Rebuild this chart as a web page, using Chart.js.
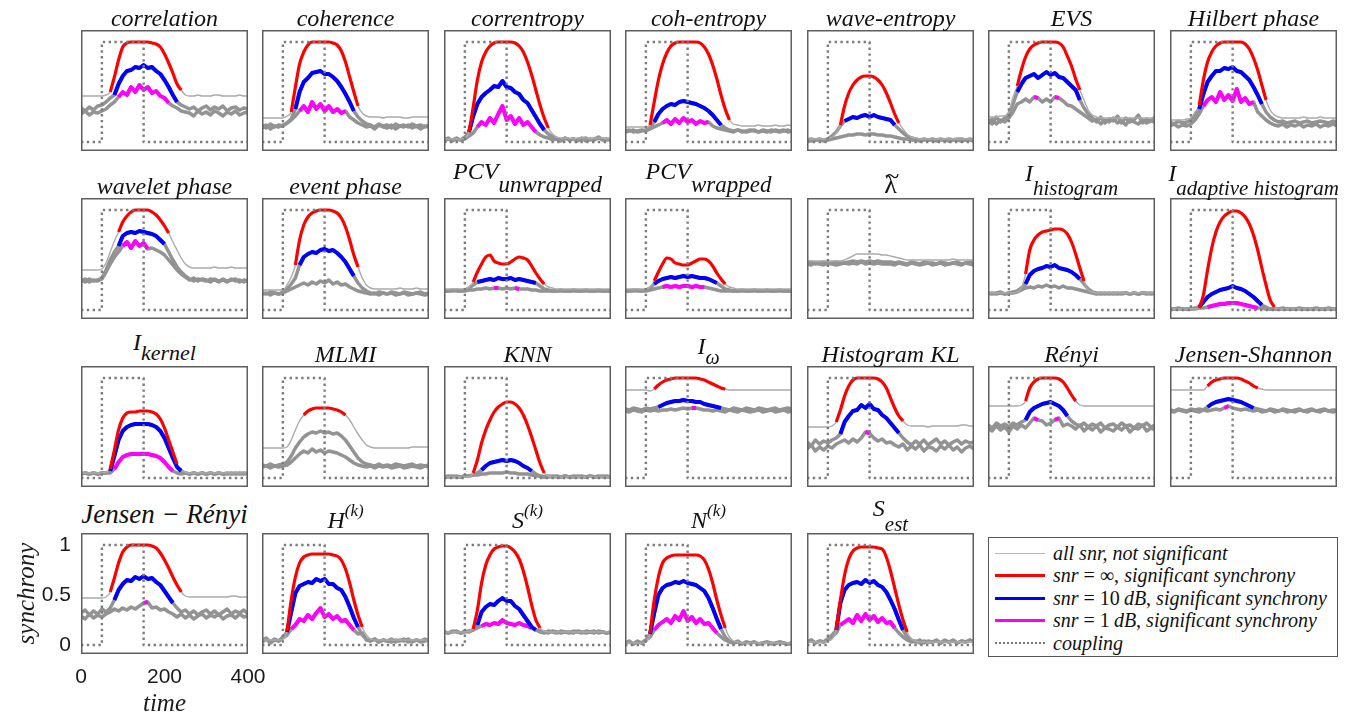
<!DOCTYPE html>
<html><head><meta charset="utf-8">
<script src="https://cdn.jsdelivr.net/npm/chart.js@4/dist/chart.umd.min.js"></script>
<style>
html,body{margin:0;padding:0;background:#fff;}
#wrap{position:relative;width:1348px;height:719px;overflow:hidden;background:#fff;}
#wrap canvas{position:absolute;}
.ttl{position:absolute;transform:translateX(-50%);font-family:'Liberation Serif','Times New Roman',serif;font-style:italic;font-size:24px;line-height:1;color:#111;white-space:nowrap;}
.sb{position:relative;}
#legend{position:absolute;left:988px;top:537px;width:348px;height:118px;border:1.5px solid #555;font-family:'Liberation Serif','Times New Roman',serif;font-size:20px;color:#111;}
.li{position:absolute;left:0;height:22px;display:flex;align-items:center;white-space:nowrap;}
.sw{display:inline-block;width:50px;margin-left:6px;margin-right:8px;height:0;}
</style></head>
<body><div id="wrap"></div>
<script>
// ---------- shared axes / categories ----------
const timeAxis=[0,10,20,30,40,50,60,70,80,90,100,110,120,130,140,150,160,170,180,190,200,210,220,230,240,250,260,270,280,290,300,310,320,330,340,350,360,370,380,390,400];
const couplingT=[0,50,50,150,150,400];
const couplingY=[0,0,1,1,0,0];
const yTicks=[0,0.5,1];
const xTicks=[0,200,400];

// ---------- series (inf = snr ∞, _10 = 10 dB, _1 = 1 dB); s* = significant time ranges [start,end,...] ----------
const corr_inf=[.46,.46,.46,.46,.46,.46,.47,.50,.65,.82,.95,.99,1,1,1,1,1,.99,.98,.95,.88,.79,.69,.58,.52,.47,.46,.46,.47,.46,.46,.46,.47,.47,.46,.46,.46,.46,.47,.46,.46];
const corr_10=[.34,.31,.35,.32,.36,.37,.40,.44,.47,.58,.66,.71,.72,.75,.74,.77,.74,.75,.71,.68,.62,.55,.47,.40,.37,.35,.33,.35,.31,.34,.36,.32,.35,.33,.36,.31,.34,.35,.32,.34,.33];
const corr_1=[.28,.31,.27,.30,.29,.31,.33,.37,.40,.45,.50,.47,.55,.50,.57,.52,.55,.49,.51,.46,.44,.39,.36,.34,.31,.30,.29,.26,.31,.28,.30,.27,.31,.29,.26,.30,.28,.31,.27,.29,.30];
const corr_sInf=[70,240], corr_s10=[80,230], corr_s1=[90,210];

const coh_inf=[.24,.24,.24,.24,.24,.24,.26,.30,.55,.78,.90,.97,1,1,1,1,1,.99,.97,.91,.80,.65,.50,.36,.29,.26,.25,.25,.25,.24,.25,.25,.25,.25,.24,.24,.25,.25,.25,.25,.25];
const coh_10=[.17,.14,.18,.15,.17,.16,.19,.23,.33,.50,.60,.64,.69,.70,.71,.68,.68,.65,.61,.55,.48,.40,.31,.25,.21,.18,.17,.15,.18,.16,.17,.14,.18,.16,.17,.15,.18,.16,.17,.15,.17];
const coh_1=[.14,.17,.13,.16,.15,.17,.19,.22,.26,.31,.36,.30,.40,.33,.38,.31,.36,.30,.33,.29,.31,.25,.22,.19,.17,.15,.16,.13,.17,.15,.14,.17,.13,.16,.15,.17,.14,.16,.13,.16,.15];
const coh_sInf=[70,230], coh_s10=[80,220], coh_s1=[90,200];

const centr_inf=[.03,.03,.03,.03,.03,.04,.10,.35,.62,.80,.90,.96,.99,1,1,1,1,.99,.96,.90,.80,.67,.52,.37,.24,.14,.08,.05,.04,.04,.04,.03,.04,.04,.04,.03,.04,.04,.04,.03,.04];
const centr_10=[.02,.04,.01,.03,.02,.05,.10,.26,.38,.45,.49,.52,.56,.55,.61,.55,.54,.50,.48,.42,.39,.32,.25,.18,.12,.08,.05,.03,.02,.04,.02,.03,.01,.03,.04,.02,.03,.05,.02,.03,.02];
const centr_1=[.01,.03,.02,.04,.02,.03,.06,.09,.15,.20,.17,.24,.19,.28,.36,.22,.26,.18,.24,.17,.20,.15,.10,.07,.05,.04,.02,.03,.01,.04,.02,.03,.02,.04,.01,.03,.02,.04,.03,.02,.03];
const centr_sInf=[60,250], centr_s10=[60,240], centr_s1=[80,220];

const cohent_inf=[.15,.15,.15,.15,.15,.15,.17,.40,.62,.78,.89,.96,.99,1,1,1,1,1,.99,.95,.88,.77,.63,.47,.33,.22,.18,.17,.16,.16,.16,.16,.17,.16,.16,.16,.17,.16,.16,.17,.16];
const cohent_10=[.11,.12,.10,.11,.12,.11,.14,.20,.28,.33,.36,.38,.37,.40,.41,.40,.39,.38,.36,.34,.31,.27,.22,.17,.14,.12,.11,.12,.10,.11,.12,.11,.10,.12,.11,.10,.12,.11,.12,.10,.11];
const cohent_1=[.10,.11,.12,.10,.11,.12,.13,.15,.17,.19,.22,.18,.23,.19,.24,.20,.22,.18,.21,.19,.20,.16,.14,.13,.12,.11,.10,.12,.11,.10,.11,.12,.10,.11,.10,.12,.11,.10,.11,.12,.10];
const cohent_sInf=[60,250], cohent_s10=[70,230], cohent_s1=[90,200];

const wavent_inf=[.03,.03,.03,.03,.03,.03,.05,.09,.17,.36,.49,.57,.62,.65,.66,.66,.65,.62,.57,.49,.39,.28,.19,.13,.08,.05,.04,.03,.03,.03,.03,.03,.03,.03,.03,.03,.03,.03,.03,.03,.03];
const wavent_10=[.02,.03,.02,.03,.02,.03,.06,.10,.16,.21,.23,.25,.24,.26,.27,.25,.27,.25,.24,.23,.22,.17,.13,.09,.06,.04,.03,.02,.03,.02,.03,.02,.03,.02,.03,.02,.03,.03,.02,.03,.02];
const wavent_1=[.02,.01,.02,.02,.01,.02,.03,.04,.05,.06,.07,.07,.08,.08,.07,.08,.08,.07,.07,.06,.06,.05,.04,.03,.03,.02,.02,.01,.02,.02,.02,.01,.02,.02,.01,.02,.02,.01,.02,.02,.01];
const wavent_sInf=[80,220], wavent_s10=[90,210], wavent_s1=[];

const evs_inf=[.25,.25,.25,.26,.26,.30,.45,.56,.72,.85,.93,.97,.99,1,1,1,1,.99,.95,.86,.76,.63,.52,.42,.32,.27,.25,.24,.24,.24,.24,.24,.24,.24,.24,.24,.24,.24,.24,.24,.24];
const evs_10=[.22,.18,.25,.20,.24,.28,.38,.50,.58,.64,.66,.68,.64,.67,.70,.67,.69,.65,.64,.60,.56,.52,.42,.34,.28,.24,.20,.25,.19,.23,.21,.26,.19,.24,.20,.22,.27,.19,.23,.21,.25];
const evs_1=[.19,.23,.18,.22,.20,.24,.30,.38,.40,.43,.40,.45,.44,.40,.43,.40,.45,.44,.41,.37,.36,.33,.30,.27,.24,.21,.23,.18,.22,.20,.24,.19,.21,.17,.23,.20,.18,.22,.19,.21,.20];
const evs_sInf=[70,220], evs_s10=[70,220], evs_s1=[110,120,160,170];

const hilb_inf=[.22,.22,.22,.22,.23,.24,.30,.37,.62,.80,.90,.96,.99,1,1,1,1,1,.98,.93,.84,.72,.57,.42,.32,.27,.25,.24,.24,.24,.24,.24,.25,.24,.24,.24,.25,.24,.24,.24,.24];
const hilb_10=[.20,.18,.21,.19,.20,.22,.27,.33,.48,.60,.66,.71,.71,.74,.73,.75,.71,.70,.66,.62,.55,.47,.38,.30,.25,.22,.20,.21,.19,.20,.21,.19,.20,.21,.19,.20,.21,.20,.19,.21,.20];
const hilb_1=[.16,.18,.15,.17,.16,.18,.22,.28,.36,.42,.45,.40,.50,.42,.47,.41,.53,.40,.44,.38,.40,.30,.26,.22,.19,.17,.16,.18,.15,.17,.16,.18,.15,.17,.16,.18,.15,.17,.16,.18,.16];
const hilb_sInf=[70,230], hilb_s10=[70,220], hilb_s1=[80,200];

const wvph_inf=[.40,.40,.40,.40,.40,.41,.47,.58,.69,.78,.88,.94,.98,1,1,1,1,.98,.95,.90,.84,.77,.68,.60,.52,.46,.43,.42,.42,.42,.42,.42,.43,.42,.42,.42,.43,.42,.42,.42,.42];
const wvph_10=[.30,.28,.31,.29,.30,.32,.40,.50,.58,.64,.74,.77,.78,.77,.79,.78,.77,.76,.74,.70,.66,.58,.50,.43,.38,.34,.31,.29,.31,.30,.29,.31,.30,.28,.31,.29,.30,.31,.28,.30,.29];
const wvph_1=[.29,.31,.28,.30,.29,.31,.38,.46,.53,.58,.64,.68,.62,.69,.64,.67,.61,.62,.60,.58,.55,.50,.45,.40,.36,.33,.30,.32,.29,.31,.30,.28,.31,.29,.30,.28,.31,.29,.30,.28,.30];
const wvph_sInf=[90,210], wvph_s10=[90,200], wvph_s1=[100,160];

const evph_inf=[.20,.20,.20,.20,.20,.20,.25,.33,.45,.70,.85,.93,.97,.99,1,1,1,.99,.97,.92,.83,.70,.55,.43,.32,.25,.22,.21,.21,.21,.21,.21,.21,.22,.21,.21,.21,.22,.21,.21,.21];
const evph_10=[.17,.16,.18,.17,.16,.18,.21,.26,.32,.45,.53,.56,.58,.57,.60,.61,.59,.60,.57,.53,.48,.41,.34,.27,.22,.19,.17,.16,.18,.17,.16,.18,.17,.16,.18,.17,.16,.17,.18,.16,.17];
const evph_1=[.16,.17,.15,.17,.16,.17,.19,.21,.23,.25,.27,.25,.28,.26,.29,.27,.30,.26,.28,.25,.26,.23,.21,.19,.18,.17,.16,.17,.15,.17,.16,.17,.15,.16,.17,.15,.16,.17,.16,.15,.16];
const evph_sInf=[80,230], evph_s10=[90,220], evph_s1=[];

const pcvu_inf=[.21,.21,.21,.21,.21,.21,.23,.28,.38,.46,.53,.55,.49,.47,.46,.46,.48,.51,.53,.52,.50,.44,.37,.31,.26,.23,.22,.21,.21,.21,.21,.21,.21,.21,.21,.21,.21,.21,.21,.21,.21];
const pcvu_10=[.19,.19,.20,.19,.19,.20,.22,.25,.28,.29,.30,.31,.30,.32,.31,.31,.32,.30,.31,.30,.29,.28,.27,.24,.21,.20,.19,.19,.20,.19,.19,.20,.19,.19,.20,.19,.19,.20,.19,.19,.19];
const pcvu_1=[.19,.19,.19,.20,.19,.19,.20,.20,.21,.21,.22,.21,.22,.22,.21,.22,.21,.22,.21,.21,.21,.20,.20,.19,.19,.19,.19,.19,.19,.19,.19,.19,.19,.19,.19,.19,.19,.19,.19,.19,.19];
const pcvu_sInf=[70,240], pcvu_s10=[80,220], pcvu_s1=[120,130,170,180];

const pcvw_inf=[.21,.21,.21,.21,.21,.21,.23,.29,.38,.46,.52,.51,.47,.46,.45,.45,.47,.49,.51,.51,.49,.44,.37,.31,.26,.23,.22,.21,.21,.21,.21,.21,.21,.21,.21,.21,.21,.21,.21,.21,.21];
const pcvw_10=[.19,.19,.20,.19,.19,.20,.22,.26,.29,.31,.32,.33,.32,.33,.34,.33,.34,.33,.32,.32,.31,.29,.27,.24,.21,.20,.19,.19,.20,.19,.19,.20,.19,.19,.20,.19,.19,.20,.19,.19,.19];
const pcvw_1=[.19,.19,.19,.20,.19,.19,.20,.21,.22,.23,.24,.23,.24,.23,.24,.24,.23,.24,.23,.23,.22,.21,.20,.19,.19,.19,.19,.19,.19,.19,.19,.19,.19,.19,.19,.19,.19,.19,.19,.19,.19];
const pcvw_sInf=[70,240], pcvw_s10=[70,220], pcvw_s1=[90,190];

const lam_inf=[.49,.49,.49,.49,.49,.49,.49,.49,.49,.50,.52,.54,.56,.56,.56,.56,.56,.56,.55,.55,.54,.53,.52,.51,.50,.50,.50,.50,.50,.50,.50,.50,.50,.50,.50,.51,.50,.50,.50,.50,.50];
const lam_10=[.47,.48,.46,.47,.48,.46,.47,.48,.47,.47,.48,.49,.48,.49,.48,.49,.48,.49,.48,.48,.48,.47,.48,.47,.46,.48,.47,.46,.48,.47,.47,.46,.48,.47,.46,.47,.48,.46,.47,.48,.47];
const lam_1=[.46,.45,.47,.46,.45,.47,.46,.45,.46,.47,.46,.47,.46,.48,.46,.47,.46,.47,.46,.46,.46,.45,.47,.46,.45,.47,.46,.45,.46,.47,.45,.46,.47,.45,.46,.47,.46,.45,.47,.46,.45];
const lam_sInf=[], lam_s10=[], lam_s1=[];

const ihist_inf=[.17,.17,.17,.17,.17,.17,.17,.18,.22,.36,.60,.70,.75,.78,.79,.80,.81,.81,.80,.76,.68,.56,.42,.29,.20,.18,.17,.17,.17,.17,.17,.17,.17,.17,.17,.17,.17,.17,.17,.17,.17];
const ihist_10=[.17,.16,.17,.18,.16,.17,.18,.19,.22,.26,.35,.39,.41,.42,.44,.43,.45,.42,.41,.40,.38,.35,.31,.26,.21,.18,.17,.16,.17,.16,.17,.16,.17,.17,.16,.17,.16,.17,.17,.16,.17];
const ihist_1=[.16,.17,.16,.17,.16,.17,.17,.18,.20,.22,.23,.22,.24,.23,.25,.23,.24,.22,.24,.22,.22,.21,.20,.19,.18,.17,.16,.17,.16,.17,.16,.17,.16,.17,.16,.17,.16,.17,.16,.17,.16];
const ihist_sInf=[90,230], ihist_s10=[90,220], ihist_s1=[];

const iadapt_inf=[.01,.01,.01,.01,.01,.01,.01,.02,.15,.40,.62,.78,.88,.94,.97,.99,.99,.97,.93,.86,.75,.60,.42,.25,.10,.03,.01,.01,.01,.01,.01,.01,.01,.01,.01,.01,.01,.01,.01,.01,.01];
const iadapt_10=[.01,.01,.02,.01,.01,.01,.02,.03,.08,.13,.16,.18,.20,.21,.22,.24,.22,.21,.19,.16,.13,.09,.05,.03,.01,.01,.01,.02,.01,.01,.01,.02,.01,.01,.01,.02,.01,.01,.02,.01,.01];
const iadapt_1=[.01,.01,.01,.01,.01,.01,.01,.02,.02,.03,.04,.05,.06,.06,.07,.07,.07,.06,.05,.04,.03,.02,.02,.01,.01,.01,.01,.01,.01,.01,.01,.01,.01,.01,.01,.01,.01,.01,.01,.01,.01];
const iadapt_sInf=[70,250], iadapt_s10=[70,220], iadapt_s1=[90,210];

const iker_inf=[.05,.05,.05,.05,.05,.05,.06,.09,.28,.48,.60,.65,.66,.66,.67,.67,.67,.66,.64,.59,.50,.38,.26,.14,.08,.06,.05,.05,.05,.05,.05,.05,.05,.05,.05,.05,.05,.05,.05,.05,.05];
const iker_10=[.04,.05,.04,.05,.04,.05,.05,.07,.22,.38,.47,.51,.53,.54,.54,.54,.54,.53,.51,.47,.40,.30,.20,.11,.07,.05,.04,.05,.04,.05,.04,.05,.04,.05,.04,.04,.05,.04,.05,.04,.05];
const iker_1=[.04,.05,.04,.05,.04,.05,.05,.05,.09,.16,.21,.23,.24,.24,.24,.24,.24,.23,.22,.20,.16,.11,.07,.05,.04,.05,.04,.05,.04,.05,.04,.05,.04,.05,.04,.05,.04,.05,.04,.05,.04];
const iker_sInf=[70,230], iker_s10=[70,240], iker_s1=[80,220];

const mlmi_inf=[.30,.30,.30,.30,.30,.30,.31,.38,.48,.57,.63,.67,.69,.70,.70,.70,.70,.69,.68,.66,.63,.58,.51,.44,.38,.33,.31,.30,.30,.30,.30,.30,.30,.30,.30,.30,.31,.31,.31,.31,.31];
const mlmi_10=[.13,.12,.14,.12,.13,.14,.16,.22,.30,.36,.41,.44,.46,.45,.47,.45,.46,.44,.45,.42,.38,.32,.26,.20,.16,.14,.13,.12,.14,.12,.13,.12,.14,.13,.12,.13,.14,.12,.13,.12,.13];
const mlmi_1=[.11,.12,.10,.12,.11,.12,.13,.16,.20,.24,.27,.25,.29,.26,.28,.25,.27,.26,.25,.23,.21,.18,.15,.13,.12,.11,.12,.10,.12,.11,.12,.10,.11,.12,.10,.11,.12,.11,.10,.12,.11];
const mlmi_sInf=[100,200], mlmi_s10=[], mlmi_s1=[];

const knn_inf=[.01,.01,.01,.01,.01,.01,.01,.05,.18,.35,.48,.58,.66,.71,.74,.76,.76,.74,.70,.63,.53,.41,.28,.15,.05,.02,.01,.01,.01,.01,.01,.01,.01,.01,.01,.01,.01,.01,.01,.01,.01];
const knn_10=[.01,.02,.01,.02,.01,.02,.02,.03,.05,.08,.12,.15,.16,.17,.18,.17,.18,.17,.15,.12,.10,.07,.04,.02,.01,.02,.01,.02,.01,.02,.01,.02,.01,.02,.01,.02,.01,.02,.01,.02,.01];
const knn_1=[.01,.01,.02,.01,.01,.02,.02,.03,.03,.04,.04,.05,.05,.05,.05,.06,.05,.05,.04,.04,.04,.03,.02,.02,.01,.01,.02,.01,.01,.02,.01,.01,.02,.01,.01,.02,.01,.01,.02,.01,.01];
const knn_sInf=[70,240], knn_s10=[90,210], knn_s1=[];

const iw_inf=[.88,.88,.88,.88,.88,.88,.87,.89,.93,.96,.98,.99,1,1,1,1,1,1,.99,.98,.96,.94,.92,.90,.89,.88,.88,.88,.88,.88,.88,.88,.88,.88,.88,.88,.88,.88,.88,.88,.88];
const iw_10=[.69,.68,.70,.69,.68,.70,.69,.70,.71,.73,.75,.76,.77,.77,.78,.77,.77,.76,.76,.74,.73,.72,.71,.70,.69,.68,.70,.69,.68,.70,.69,.68,.70,.69,.68,.69,.70,.68,.69,.70,.69];
const iw_1=[.67,.66,.68,.67,.66,.68,.67,.68,.67,.68,.68,.69,.68,.69,.70,.69,.70,.70,.69,.68,.68,.67,.68,.67,.66,.68,.67,.66,.68,.67,.66,.67,.68,.66,.67,.68,.66,.67,.68,.66,.67];
const iw_sInf=[70,240], iw_s10=[80,230], iw_s1=[160,170];

const hkl_inf=[.51,.51,.51,.51,.51,.51,.52,.56,.68,.82,.92,.98,1,1,1,1,1,.99,.96,.90,.80,.70,.62,.57,.53,.52,.52,.52,.52,.51,.52,.52,.52,.52,.52,.52,.52,.53,.53,.52,.52];
const hkl_10=[.36,.32,.38,.34,.37,.35,.38,.40,.44,.56,.62,.67,.68,.73,.70,.74,.69,.68,.63,.60,.55,.50,.45,.40,.36,.33,.37,.34,.38,.33,.36,.39,.34,.37,.33,.36,.38,.34,.37,.35,.36];
const hkl_1=[.29,.33,.27,.31,.28,.32,.30,.34,.36,.38,.35,.39,.36,.40,.46,.45,.40,.37,.39,.35,.36,.33,.31,.34,.28,.32,.29,.33,.27,.31,.30,.27,.32,.29,.33,.28,.31,.26,.30,.32,.29];
const hkl_sInf=[70,230], hkl_s10=[80,220], hkl_s1=[140,150];

const renyi_inf=[.72,.72,.72,.72,.72,.72,.72,.72,.73,.77,.90,.96,.99,1,1,1,1,.99,.96,.90,.83,.77,.73,.72,.72,.72,.72,.72,.72,.72,.72,.72,.72,.72,.72,.72,.72,.72,.72,.72,.72];
const renyi_10=[.53,.50,.55,.52,.54,.51,.55,.53,.56,.58,.66,.70,.72,.74,.75,.76,.74,.72,.68,.62,.57,.54,.52,.55,.51,.54,.52,.55,.50,.53,.54,.51,.55,.52,.53,.50,.54,.52,.55,.51,.53];
const renyi_1=[.50,.47,.52,.48,.51,.46,.52,.49,.53,.50,.55,.60,.58,.57,.53,.55,.58,.60,.52,.54,.52,.49,.53,.47,.51,.48,.52,.46,.50,.49,.47,.51,.48,.52,.46,.50,.49,.53,.47,.50,.48];
const renyi_sInf=[90,210], renyi_s10=[90,190], renyi_s1=[110,120,160,170];

const js_inf=[.88,.88,.88,.88,.88,.88,.88,.88,.88,.92,.96,.98,.99,1,1,1,1,.99,.97,.95,.92,.90,.89,.88,.88,.88,.88,.88,.88,.88,.88,.88,.88,.88,.88,.88,.88,.88,.88,.88,.88];
const js_10=[.68,.67,.69,.68,.67,.69,.68,.69,.68,.71,.74,.76,.77,.78,.79,.78,.77,.76,.74,.72,.70,.69,.68,.67,.69,.68,.67,.69,.68,.67,.68,.69,.67,.68,.69,.67,.68,.69,.67,.68,.68];
const js_1=[.67,.66,.68,.67,.66,.68,.67,.66,.68,.67,.68,.69,.68,.70,.72,.70,.69,.68,.69,.68,.67,.68,.66,.67,.68,.66,.67,.68,.66,.67,.66,.68,.67,.66,.68,.67,.66,.68,.67,.66,.67];
const js_sInf=[90,210], js_s10=[90,200], js_s1=[130,140];

const jr_inf=[.47,.47,.47,.47,.47,.47,.48,.53,.67,.82,.93,.98,1,1,1,1,1,.99,.97,.92,.85,.77,.68,.60,.53,.49,.48,.48,.48,.48,.48,.48,.48,.48,.48,.48,.49,.49,.48,.48,.48];
const jr_10=[.32,.35,.30,.34,.31,.36,.33,.37,.45,.55,.61,.65,.64,.68,.66,.69,.66,.67,.63,.60,.54,.48,.42,.37,.33,.35,.31,.34,.30,.33,.35,.31,.34,.30,.33,.36,.31,.34,.32,.35,.31];
const jr_1=[.29,.26,.31,.27,.30,.28,.31,.33,.36,.34,.37,.35,.38,.36,.39,.42,.43,.37,.38,.35,.36,.33,.31,.28,.31,.27,.30,.26,.29,.31,.27,.30,.28,.31,.26,.29,.30,.27,.31,.28,.29];
const jr_sInf=[70,240], jr_s10=[80,220], jr_s1=[150,160];

const hk_inf=[.05,.05,.05,.05,.05,.06,.14,.45,.68,.82,.88,.90,.91,.91,.91,.91,.91,.90,.89,.85,.76,.62,.45,.30,.18,.10,.06,.05,.05,.05,.05,.05,.05,.05,.05,.05,.05,.05,.05,.05,.05];
const hk_10=[.04,.07,.03,.06,.04,.08,.13,.33,.52,.59,.61,.63,.62,.66,.64,.66,.61,.61,.57,.55,.48,.38,.27,.18,.10,.06,.04,.06,.03,.05,.04,.06,.03,.05,.04,.06,.03,.05,.04,.06,.04];
const hk_1=[.03,.06,.02,.05,.04,.07,.10,.16,.20,.26,.24,.30,.26,.32,.37,.28,.31,.26,.29,.24,.25,.20,.15,.11,.12,.05,.04,.06,.03,.05,.04,.03,.05,.04,.06,.03,.04,.05,.03,.04,.05];
const hk_sInf=[60,240], hk_s10=[60,230], hk_s1=[70,220];

const sk_inf=[.13,.13,.13,.13,.13,.13,.14,.16,.35,.62,.80,.90,.96,.98,.99,.99,.97,.93,.86,.74,.58,.40,.25,.17,.14,.13,.13,.13,.13,.13,.13,.13,.13,.13,.13,.13,.13,.13,.13,.13,.13];
const sk_10=[.13,.12,.14,.13,.12,.14,.13,.15,.20,.33,.38,.41,.40,.44,.47,.44,.44,.39,.36,.30,.24,.18,.15,.13,.12,.14,.13,.12,.14,.13,.12,.14,.13,.12,.14,.13,.12,.14,.13,.12,.13];
const sk_1=[.13,.12,.13,.14,.12,.13,.14,.15,.17,.19,.21,.20,.22,.21,.25,.22,.21,.20,.22,.20,.19,.17,.15,.14,.13,.12,.14,.13,.12,.13,.13,.12,.14,.13,.12,.13,.14,.12,.13,.12,.13];
const sk_sInf=[70,230], sk_s10=[80,220], sk_s1=[90,210];

const nk_inf=[.02,.02,.02,.02,.02,.03,.12,.45,.68,.82,.87,.89,.90,.90,.90,.90,.90,.90,.89,.85,.76,.62,.45,.30,.17,.08,.04,.03,.02,.02,.02,.02,.02,.02,.02,.02,.02,.02,.02,.02,.02];
const nk_10=[.02,.03,.01,.04,.02,.05,.11,.32,.50,.57,.60,.61,.63,.62,.64,.62,.61,.60,.57,.54,.47,.37,.26,.16,.08,.04,.02,.03,.01,.03,.02,.03,.01,.02,.03,.01,.02,.03,.02,.01,.02];
const nk_1=[.02,.04,.01,.03,.02,.05,.08,.15,.20,.23,.26,.22,.29,.25,.34,.24,.28,.22,.26,.21,.22,.17,.12,.08,.05,.03,.02,.04,.01,.03,.02,.03,.01,.02,.03,.02,.01,.03,.02,.01,.02];
const nk_sInf=[60,240], nk_s10=[60,230], nk_s1=[70,220];

const sest_inf=[.03,.03,.03,.03,.03,.04,.06,.15,.45,.70,.86,.94,.97,.98,.98,.98,.98,.97,.96,.88,.74,.57,.40,.25,.13,.06,.04,.03,.03,.03,.03,.03,.03,.03,.03,.03,.03,.03,.03,.03,.03];
const sest_10=[.03,.05,.02,.04,.03,.06,.10,.15,.42,.55,.60,.62,.63,.61,.65,.62,.64,.60,.58,.53,.45,.36,.25,.15,.08,.05,.03,.05,.02,.04,.03,.05,.02,.04,.03,.05,.02,.04,.03,.05,.03];
const sest_1=[.03,.05,.02,.04,.03,.06,.08,.12,.20,.23,.26,.22,.30,.24,.31,.25,.29,.23,.27,.22,.23,.17,.12,.08,.05,.03,.04,.02,.04,.03,.03,.04,.02,.05,.03,.04,.02,.04,.03,.05,.03];
const sest_sInf=[70,240], sest_s10=[70,230], sest_s1=[80,210];

// ---------- panel table (built from the arrays above) ----------
const SB=(txt,top,size)=>'<span class="sb" style="top:'+top+'px;font-size:'+size+'px">'+txt+'</span>';
const LAMBDA='<span style="position:relative;display:inline-block">λ<span style="position:absolute;left:1px;right:0;top:-9px;text-align:center">~</span></span>';
const panels=[
 {t:'correlation',inf:corr_inf,d10:corr_10,d1:corr_1,sInf:corr_sInf,s10:corr_s10,s1:corr_s1},
 {t:'coherence',inf:coh_inf,d10:coh_10,d1:coh_1,sInf:coh_sInf,s10:coh_s10,s1:coh_s1},
 {t:'correntropy',inf:centr_inf,d10:centr_10,d1:centr_1,sInf:centr_sInf,s10:centr_s10,s1:centr_s1},
 {t:'coh-entropy',inf:cohent_inf,d10:cohent_10,d1:cohent_1,sInf:cohent_sInf,s10:cohent_s10,s1:cohent_s1},
 {t:'wave-entropy',inf:wavent_inf,d10:wavent_10,d1:wavent_1,sInf:wavent_sInf,s10:wavent_s10,s1:wavent_s1},
 {t:'EVS',inf:evs_inf,d10:evs_10,d1:evs_1,sInf:evs_sInf,s10:evs_s10,s1:evs_s1},
 {t:'Hilbert phase',inf:hilb_inf,d10:hilb_10,d1:hilb_1,sInf:hilb_sInf,s10:hilb_s10,s1:hilb_s1},
 {t:'wavelet phase',inf:wvph_inf,d10:wvph_10,d1:wvph_1,sInf:wvph_sInf,s10:wvph_s10,s1:wvph_s1},
 {t:'event phase',inf:evph_inf,d10:evph_10,d1:evph_1,sInf:evph_sInf,s10:evph_s10,s1:evph_s1},
 {t:'PCV'+SB('unwrapped',13,23),tb:19,inf:pcvu_inf,d10:pcvu_10,d1:pcvu_1,sInf:pcvu_sInf,s10:pcvu_s10,s1:pcvu_s1},
 {t:'PCV'+SB('wrapped',13,23),tb:19,inf:pcvw_inf,d10:pcvw_10,d1:pcvw_1,sInf:pcvw_sInf,s10:pcvw_s10,s1:pcvw_s1},
 {t:LAMBDA,up:true,inf:lam_inf,d10:lam_10,d1:lam_1,sInf:lam_sInf,s10:lam_s10,s1:lam_s1},
 {t:'I'+SB('histogram',14,21),tb:17,inf:ihist_inf,d10:ihist_10,d1:ihist_1,sInf:ihist_sInf,s10:ihist_s10,s1:ihist_s1},
 {t:'I'+SB('adaptive histogram',14,21),tb:17,inf:iadapt_inf,d10:iadapt_10,d1:iadapt_1,sInf:iadapt_sInf,s10:iadapt_s10,s1:iadapt_s1},
 {t:'I'+SB('kernel',10,22),tb:16,inf:iker_inf,d10:iker_10,d1:iker_1,sInf:iker_sInf,s10:iker_s10,s1:iker_s1},
 {t:'MLMI',inf:mlmi_inf,d10:mlmi_10,d1:mlmi_1,sInf:mlmi_sInf,s10:mlmi_s10,s1:mlmi_s1},
 {t:'KNN',inf:knn_inf,d10:knn_10,d1:knn_1,sInf:knn_sInf,s10:knn_s10,s1:knn_s1},
 {t:'I'+SB('ω',10,20),tb:12,inf:iw_inf,d10:iw_10,d1:iw_1,sInf:iw_sInf,s10:iw_s10,s1:iw_s1},
 {t:'Histogram KL',inf:hkl_inf,d10:hkl_10,d1:hkl_1,sInf:hkl_sInf,s10:hkl_s10,s1:hkl_s1},
 {t:'Rényi',inf:renyi_inf,d10:renyi_10,d1:renyi_1,sInf:renyi_sInf,s10:renyi_s10,s1:renyi_s1},
 {t:'Jensen-Shannon',inf:js_inf,d10:js_10,d1:js_1,sInf:js_sInf,s10:js_s10,s1:js_s1},
 {t:'Jensen − Rényi',tb:9,fs:27,inf:jr_inf,d10:jr_10,d1:jr_1,sInf:jr_sInf,s10:jr_s10,s1:jr_s1,axes:true},
 {t:'H'+SB('(k)',-12,17),tb:5,inf:hk_inf,d10:hk_10,d1:hk_1,sInf:hk_sInf,s10:hk_s10,s1:hk_s1},
 {t:'S'+SB('(k)',-12,17),tb:5,inf:sk_inf,d10:sk_10,d1:sk_1,sInf:sk_sInf,s10:sk_s10,s1:sk_s1},
 {t:'N'+SB('(k)',-12,17),tb:5,inf:nk_inf,d10:nk_10,d1:nk_1,sInf:nk_sInf,s10:nk_s10,s1:nk_s1},
 {t:'S'+SB('est',15,21),tb:17,inf:sest_inf,d10:sest_10,d1:sest_1,sInf:sest_sInf,s10:sest_s10,s1:sest_s1}
];

// ---------- layout ----------
const colLeft=[81,262,444,625,807,988,1170], rowTop=[30,198,366,533], boxW=167, boxH=121;
const RED='#ff0000', BLUE='#0000ff', MAG='#ff00ff', GRAY_THIN='#ababab', GRAY='#939393', DOT='#7c7c7c';

Chart.defaults.font.family="'Liberation Sans', Arial, sans-serif";

function pts(arr){return timeAxis.map((t,i)=>({x:t,y:arr[i]}));}
function sigPts(arr,s){return timeAxis.map((t,i)=>{for(let k=0;k<s.length;k+=2){if(t>=s[k]&&t<=s[k+1])return {x:t,y:arr[i]};}return {x:t,y:null};});}
const couplingPts=couplingT.map((t,i)=>({x:t,y:couplingY[i]}));

const framePlugin={id:'frame',afterDatasetsDraw(chart){const a=chart.chartArea,ctx=chart.ctx;ctx.save();ctx.strokeStyle='#5e5e5e';ctx.lineWidth=1.5;ctx.strokeRect(a.left+0.75,a.top+0.75,a.right-a.left-1.5,a.bottom-a.top-1.5);ctx.restore();}};

const wrap=document.getElementById('wrap');
panels.forEach((p,idx)=>{
  const r=Math.floor(idx/7), c=idx%7, L=colLeft[c], T=rowTop[r];
  const cv=document.createElement('canvas');
  let cl=L, ct=T, cw=boxW, ch=boxH;
  if(p.axes){cl=0; cw=L+boxW+22; ch=719-T;}
  cv.width=cw; cv.height=ch; cv.style.left=cl+'px'; cv.style.top=ct+'px'; cv.style.width=cw+'px'; cv.style.height=ch+'px';
  wrap.appendChild(cv);
  const d=document.createElement('div'); d.className='ttl'; d.innerHTML=p.t;
  d.style.left=(L+boxW/2)+'px'; d.style.top=(T-(p.tb||4)-20-((p.fs||24)-24)*0.85)+'px';
  if(p.fs) d.style.fontSize=p.fs+'px';
  if(p.up){d.style.fontStyle='normal'; d.style.fontSize='26px'; d.style.top=(T-4-22)+'px';}
  wrap.appendChild(d);

  const datasets=[
    {data:couplingPts,borderColor:DOT,borderWidth:2.4,borderDash:[2.4,3.4]},
    {data:sigPts(p.inf,p.sInf),borderColor:RED,borderWidth:3.2,cubicInterpolationMode:'monotone'},
    {data:sigPts(p.d10,p.s10),borderColor:BLUE,borderWidth:4},
    {data:sigPts(p.d1,p.s1),borderColor:MAG,borderWidth:4},
    {data:pts(p.inf),borderColor:GRAY_THIN,borderWidth:1.4,cubicInterpolationMode:'monotone'},
    {data:pts(p.d10),borderColor:GRAY,borderWidth:3.5},
    {data:pts(p.d1),borderColor:GRAY,borderWidth:3.5}
  ];
  const tickFont={family:"'Liberation Sans', Arial, sans-serif",size:21};
  const titleFont={family:"'Liberation Serif','Times New Roman',serif",style:'italic',size:25};
  const scales=p.axes?{
    x:{type:'linear',min:0,max:400,grid:{display:false,drawTicks:false},border:{display:false},
       afterBuildTicks:s=>{s.ticks=xTicks.map(v=>({value:v}));},
       afterFit:s=>{s.height=ch-boxH; s.paddingLeft=0; s.paddingRight=0;},
       ticks:{font:tickFont,color:'#1a1a1a',padding:11,maxRotation:0,autoSkip:false,callback:v=>String(v)},
       title:{display:true,text:'time',font:titleFont,color:'#1a1a1a',padding:{top:0,bottom:0}}},
    y:{min:-0.09,max:1.12,grid:{display:false,drawTicks:false},border:{display:false},
       afterBuildTicks:s=>{s.ticks=yTicks.map(v=>({value:v}));},
       afterFit:s=>{s.width=L; s.paddingTop=0; s.paddingBottom=0;},
       ticks:{font:tickFont,color:'#1a1a1a',padding:10,callback:v=>String(v)},
       title:{display:true,text:'synchrony',font:titleFont,color:'#1a1a1a',padding:{top:12,bottom:0}}}
  }:{
    x:{type:'linear',min:0,max:400,display:false},
    y:{min:-0.09,max:1.12,display:false}
  };
  new Chart(cv,{type:'line',data:{datasets},
    options:{responsive:false,animation:false,devicePixelRatio:1,events:[],
      layout:{padding:p.axes?{left:0,top:0,right:22,bottom:0}:0},
      plugins:{legend:{display:false},tooltip:{enabled:false},title:{display:false}},
      elements:{point:{radius:0},line:{tension:0,borderCapStyle:'butt',borderJoinStyle:'round'}},
      scales},
    plugins:[framePlugin]});
});

// ---------- legend ----------
const legendRows=[
  {html:'<i>all snr, not significant</i>',sw:'border-top:1.5px solid #b5b5b5'},
  {html:'<i>snr</i> = ∞, <i>significant synchrony</i>',sw:'border-top:3px solid '+RED},
  {html:'<i>snr</i> = 10&thinsp;<i>dB</i>, <i>significant synchrony</i>',sw:'border-top:3px solid '+BLUE},
  {html:'<i>snr</i> = 1&thinsp;<i>dB</i>, <i>significant synchrony</i>',sw:'border-top:3px solid '+MAG},
  {html:'<i>coupling</i>',sw:'border-top:2px dotted #777'}
];
const lg=document.createElement('div'); lg.id='legend';
legendRows.forEach((r,i)=>{const e=document.createElement('div'); e.className='li'; e.style.top=(4+i*22.5)+'px';
  e.innerHTML='<span class="sw" style="'+r.sw+'"></span><span>'+r.html+'</span>'; lg.appendChild(e);});
wrap.appendChild(lg);
</script>
</body></html>
